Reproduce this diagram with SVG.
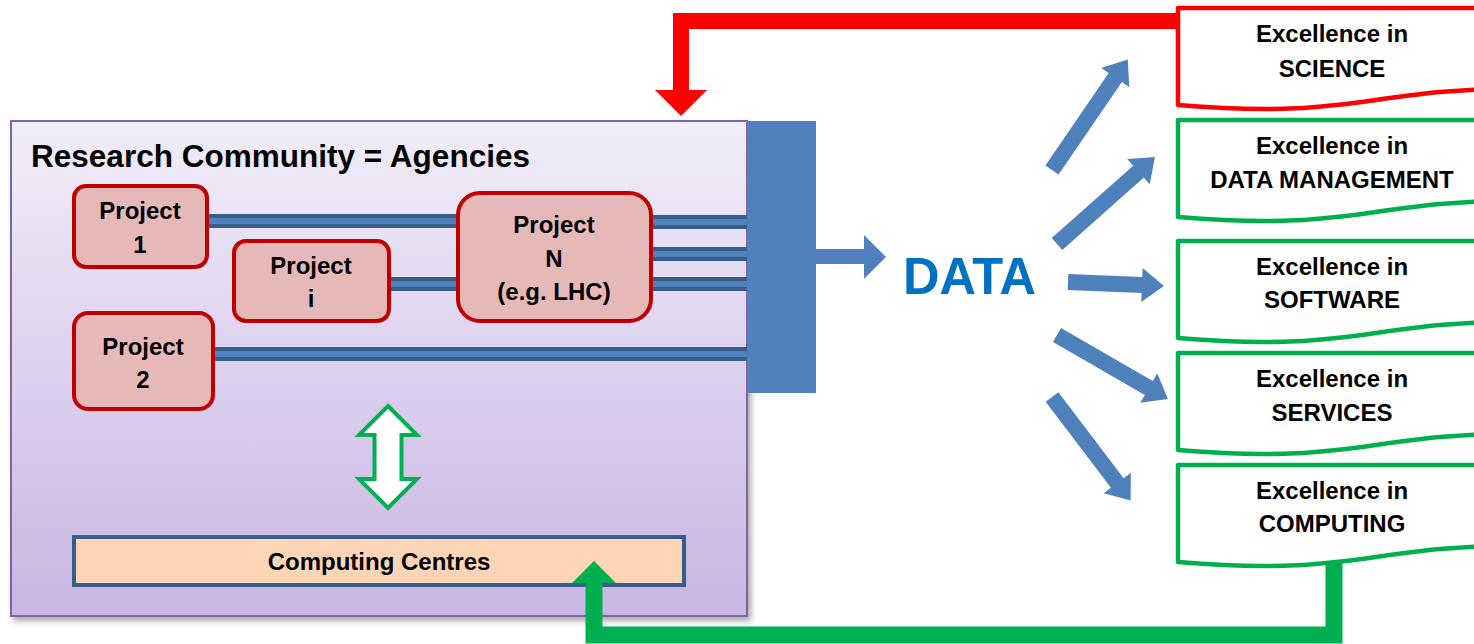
<svg xmlns="http://www.w3.org/2000/svg" width="1474" height="644" viewBox="0 0 1474 644">
  <defs>
    <linearGradient id="communityFill" x1="0" y1="0" x2="0" y2="1">
      <stop offset="0" stop-color="#F1EDF9"/>
      <stop offset="1" stop-color="#C8B5E3"/>
    </linearGradient>
    <filter id="softShadow" x="-5%" y="-5%" width="110%" height="110%">
      <feDropShadow dx="3" dy="4" stdDeviation="3" flood-color="#000" flood-opacity="0.35"/>
    </filter>
  </defs>
  <style>
    text { font-family: "Liberation Sans", Arial, sans-serif; font-weight: bold; fill: #000; }
    .title { font-size: 31px; }
    .proj-label { font-size: 24px; text-anchor: middle; }
    .exc-label { font-size: 24px; text-anchor: middle; }
    .project { fill: #E6B9B8; stroke: #C00000; stroke-width: 4; }
    .pipe-outer { stroke: #385D8A; stroke-width: 14; fill: none; }
    .pipe-inner { stroke: #4F81BD; stroke-width: 6; fill: none; }
    .blue-arrow { fill: #4F81BD; }
    .doc-green { fill: #FFFFFF; stroke: #00B050; stroke-width: 4.5; stroke-linejoin: round; }
    .doc-red { fill: #FFFFFF; stroke: #FF0000; stroke-width: 4.5; stroke-linejoin: round; }
  </style>

  <!-- Research community container -->
  <g id="research-community">
    <rect x="11" y="121" width="736" height="495" fill="url(#communityFill)" stroke="#8064A2" stroke-width="2" filter="url(#softShadow)"/>
    <text class="title" x="31" y="167" textLength="499" lengthAdjust="spacingAndGlyphs">Research Community = Agencies</text>
  </g>

  <!-- Projects -->
  <g id="project-1">
    <rect class="project" x="74" y="186" width="133" height="81" rx="12"/>
    <text class="proj-label" x="140" y="219">Project</text>
    <text class="proj-label" x="140" y="253">1</text>
  </g>
  <g id="project-i">
    <rect class="project" x="234" y="241" width="155" height="80" rx="12"/>
    <text class="proj-label" x="311" y="274">Project</text>
    <text class="proj-label" x="311" y="307">i</text>
  </g>
  <g id="project-n">
    <rect class="project" x="458" y="193" width="193" height="128" rx="22"/>
    <text class="proj-label" x="554" y="233">Project</text>
    <text class="proj-label" x="554" y="267">N</text>
    <text class="proj-label" x="554" y="300">(e.g. LHC)</text>
  </g>
  <g id="project-2">
    <rect class="project" x="74" y="313" width="139" height="96" rx="14"/>
    <text class="proj-label" x="143" y="355">Project</text>
    <text class="proj-label" x="143" y="388">2</text>
  </g>

  <!-- Data collector bar -->
  <g id="collector">
    <rect x="747" y="121" width="69" height="272" fill="#4F81BD"/>
  </g>

  <!-- Computing centres -->
  <g id="computing-centres">
    <rect x="74" y="537" width="610" height="48" fill="#FBD5B5" stroke="#385D8A" stroke-width="4"/>
    <text class="proj-label" x="379" y="570">Computing Centres</text>
  </g>

  <!-- DATA -->
  <g id="data">
    <text x="903" y="294" font-size="52" textLength="133" lengthAdjust="spacingAndGlyphs" style="fill:#0070C0">DATA</text>
  </g>

  <!-- Areas of excellence -->
  <g id="excellence-science">
    <path class="doc-red" d="M1178,8 H1540 V88 C1360,88 1360,120 1178,105 Z"/>
    <text class="exc-label" x="1332" y="42">Excellence in</text>
    <text class="exc-label" x="1332" y="77">SCIENCE</text>
  </g>
  <g id="excellence-data-management">
    <path class="doc-green" d="M1178,120 H1540 V200 C1360,200 1360,232 1178,217 Z"/>
    <text class="exc-label" x="1332" y="154">Excellence in</text>
    <text class="exc-label" x="1332" y="188">DATA MANAGEMENT</text>
  </g>
  <g id="excellence-software">
    <path class="doc-green" d="M1178,241 H1540 V321 C1360,321 1360,353 1178,338 Z"/>
    <text class="exc-label" x="1332" y="275">Excellence in</text>
    <text class="exc-label" x="1332" y="308">SOFTWARE</text>
  </g>
  <g id="excellence-services">
    <path class="doc-green" d="M1178,353 H1540 V433 C1360,433 1360,465 1178,450 Z"/>
    <text class="exc-label" x="1332" y="387">Excellence in</text>
    <text class="exc-label" x="1332" y="421">SERVICES</text>
  </g>
  <g id="excellence-computing">
    <path class="doc-green" d="M1178,465 H1540 V545 C1360,545 1360,577 1178,562 Z"/>
    <text class="exc-label" x="1332" y="499">Excellence in</text>
    <text class="exc-label" x="1332" y="532">COMPUTING</text>
  </g>

  <!-- Connectors -->
  <g id="connectors">
    <!-- project pipes feeding the data collector, edge to edge -->
    <g id="pipes">
      <path class="pipe-outer" d="M209,221 H456 M653,222 H747 M653,254 H747 M653,284 H747 M391,284 H456 M215,354 H747"/>
      <path class="pipe-inner" d="M209,221 H456 M653,222 H747 M653,254 H747 M653,284 H747 M391,284 H456 M215,354 H747"/>
    </g>

    <!-- collector to DATA -->
    <polygon class="blue-arrow" points="815,249 864,249 864,235 886,257 864,279 864,264 815,264"/>

    <!-- DATA to the areas of excellence -->
    <g transform="translate(1052,170) rotate(-55.6)"><polygon class="blue-arrow" points="0,-8 112,-8 112,-17 134,0 112,17 112,8 0,8"/></g>
    <g transform="translate(1057,244) rotate(-41.6)"><polygon class="blue-arrow" points="0,-8 109,-8 109,-17 131,0 109,17 109,8 0,8"/></g>
    <g transform="translate(1068,282) rotate(2.4)"><polygon class="blue-arrow" points="0,-8 74,-8 74,-17 96,0 74,17 74,8 0,8"/></g>
    <g transform="translate(1057,335) rotate(30)"><polygon class="blue-arrow" points="0,-8 106,-8 106,-17 128,0 106,17 106,8 0,8"/></g>
    <g transform="translate(1052,397) rotate(52.8)"><polygon class="blue-arrow" points="0,-8 108,-8 108,-17 130,0 108,17 108,8 0,8"/></g>

    <!-- science feedback to the community -->
    <path d="M1176,21 H681 V91" fill="none" stroke="#FF0000" stroke-width="16"/>
    <polygon points="655,90 707,90 681,116" fill="#FF0000"/>

    <!-- computing feedback to the computing centres -->
    <path d="M1334,562 V635 H594 V580" fill="none" stroke="#00B050" stroke-width="17"/>
    <polygon points="572,583 616,583 594,561" fill="#00B050"/>

    <!-- projects and computing centres exchange -->
    <polygon points="388,406 417,435 401.5,435 401.5,479 417,479 388,508 359,479 374.5,479 374.5,435 359,435" fill="#FFFFFF" stroke="#00B050" stroke-width="4"/>
  </g>
</svg>
